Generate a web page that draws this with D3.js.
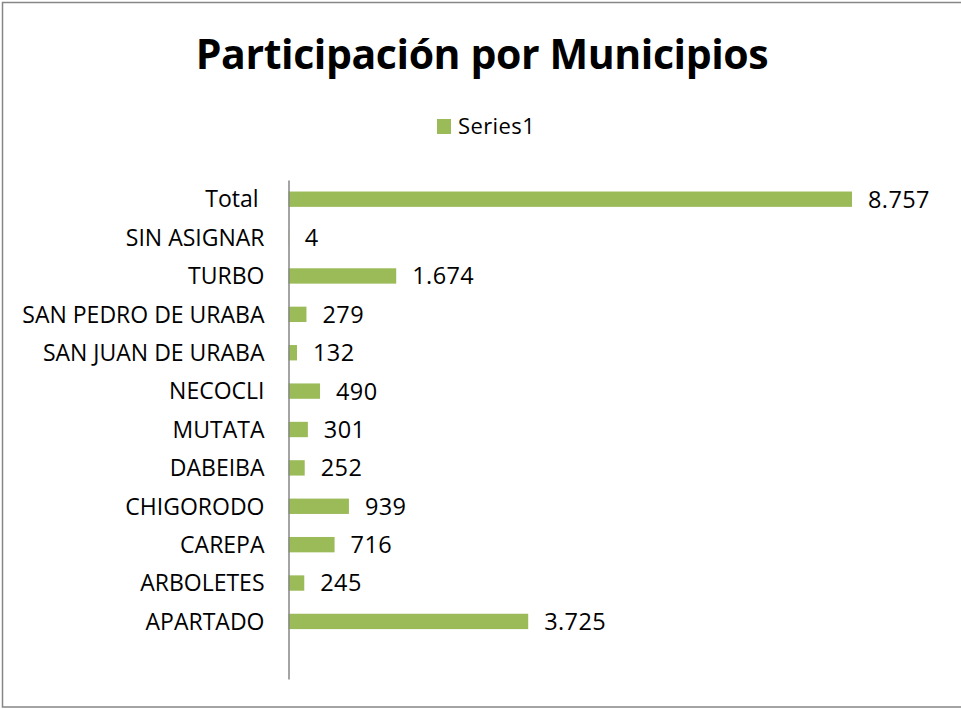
<!DOCTYPE html>
<html lang="es">
<head>
  <meta charset="UTF-8">
  <title>Participación por Municipios</title>
  <style>
    body { margin: 0; background: #fff; }
    svg { display: block; font-family: 'Open Sans', sans-serif; }
  </style>
</head>
<body>
<div id="chart"></div>
<script src="https://cdn.jsdelivr.net/npm/d3@7"></script>
<script>
  // categorias de arriba hacia abajo (la ultima va vacia, como en el original)
  var categories = ['Total ', 'SIN ASIGNAR', 'TURBO', 'SAN PEDRO DE URABA', 'SAN JUAN DE URABA',
    'NECOCLI', 'MUTATA', 'DABEIBA', 'CHIGORODO', 'CAREPA', 'ARBOLETES', 'APARTADO', ' ']
  var values = [8757, 4, 1674, 279, 132, 490, 301, 252, 939, 716, 245, 3725, null]
  var seriesName = 'Series1'
  var title = 'Participación por Municipios'

  var width = 961, height = 709
  var barColor = '#9bbb59'
  var axisColor = '#868686'
  var font = "'Open Sans', sans-serif"

  var data = categories.map(function (c, i) { return { name: c, value: values[i] } })

  var svg = d3.select('#chart').append('svg')
    .attr('width', width)
    .attr('height', height)

  // marco del grafico
  svg.append('rect')
    .attr('x', 2.5).attr('y', 2.5)
    .attr('width', width + 10).attr('height', 704.5)
    .style('fill', '#fff')
    .style('stroke', '#868686')
    .style('stroke-width', 1.5)

  // titulo
  svg.append('text')
    .attr('x', 482).attr('y', 69)
    .attr('text-anchor', 'middle')
    .style('font-size', '41px')
    .style('font-weight', 'bold')
    .style('letter-spacing', '-0.4px')
    .style('fill', '#000')
    .text(title)

  // leyenda
  var legend = svg.append('g')
  legend.append('rect')
    .attr('x', 437).attr('y', 119)
    .attr('width', 14).attr('height', 15)
    .style('fill', barColor)
  legend.append('text')
    .attr('x', 458).attr('y', 134)
    .style('font-size', '22px')
    .style('letter-spacing', '0.4px')
    .style('fill', '#000')
    .text(seriesName)

  // escalas
  var x = d3.scaleLinear()
    .domain([0, 10000])
    .range([288.5, 932])
  var y = d3.scaleBand()
    .domain(categories)
    .range([180, 679])
    .paddingInner(0.6)
    .paddingOuter(0.3)

  // barras
  svg.append('g').selectAll('rect')
    .data(data.filter(function (d) { return d.value != null }))
    .enter()
    .append('rect')
    .attr('x', x(0))
    .attr('y', function (d) { return y(d.name) })
    .attr('width', function (d) { return x(d.value) - x(0) })
    .attr('height', y.bandwidth())
    .style('fill', barColor)

  // etiquetas de valor (separador de miles con punto)
  var fmt = d3.formatLocale({ decimal: ',', thousands: '.', grouping: [3], currency: ['$', ''] }).format(',d')
  svg.append('g').selectAll('text')
    .data(data.filter(function (d) { return d.value != null }))
    .enter()
    .append('text')
    .attr('x', function (d) { return x(d.value) + 16 })
    .attr('y', function (d) { return y(d.name) + y.bandwidth() / 2 })
    .attr('dy', '0.36em')
    .style('font-size', '23.5px')
    .style('letter-spacing', '0.4px')
    .style('fill', '#000')
    .text(function (d) { return fmt(d.value) })

  // eje vertical
  var axis = svg.append('g')
    .attr('transform', 'translate(288.5,0)')
    .call(d3.axisLeft(y).tickSize(0).tickSizeOuter(0).tickPadding(24))
  axis.select('.domain').style('stroke', axisColor).style('stroke-width', 1.5)
  axis.selectAll('text')
    .attr('dy', '0.36em')
    .style('font-family', font)
    .style('font-size', '23px')
    .style('fill', '#000')
    .style('white-space', 'pre')
</script>
</body>
</html>
